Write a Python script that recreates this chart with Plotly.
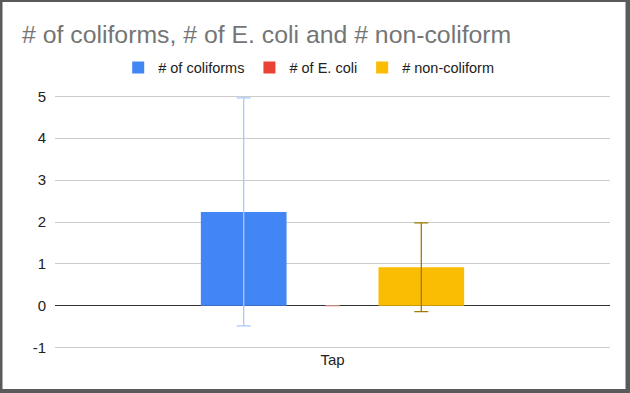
import plotly.graph_objects as go

categories = ["Tap"]
series_names = ["# of coliforms", "# of E. coli", "# non-coliform"]
values = [[2.24], [0.0], [0.92]]
errors = [[2.72], [0.0], [1.06]]
bar_colors = ["#4285f4", "#ea4335", "#fbbc04"]
err_colors = ["#a9c8fb", "#f4a6a0", "#a07c00"]
y_ticks = [-1, 0, 1, 2, 3, 4, 5]
y_tick_labels = ["-1", "0", "1", "2", "3", "4", "5"]

fig = go.Figure()
for name, v, e, c, ec in zip(series_names, values, errors, bar_colors, err_colors):
    fig.add_trace(go.Bar(
        x=categories, y=v, name=name,
        marker=dict(color=c, line=dict(width=0)),
        error_y=dict(type="data", array=e, visible=True, color=ec, thickness=1.3, width=7),
    ))

H = 254.0
fig.update_layout(
    width=630, height=393,
    margin=dict(l=55, r=20, t=95, b=44, autoexpand=False),
    paper_bgcolor="#5a5a5a",
    plot_bgcolor="rgba(0,0,0,0)",
    barmode="group", bargap=0.52, bargroupgap=0.035,
    font=dict(family="Liberation Sans, Arial, sans-serif", size=15, color="#222222"),
    title=dict(text="# of coliforms, # of E. coli and # non-coliform",
               x=22/630, xanchor="left", y=1-34/393, yanchor="middle",
               font=dict(size=24.8, color="#757575")),
    legend=dict(orientation="h", x=0.49, xanchor="center", y=1-67.5/393, yanchor="middle",
                yref="container", xref="container", bgcolor="white",
                font=dict(size=14.5, color="#222222"),
                itemwidth=30, traceorder="normal"),
    shapes=[dict(type="rect", xref="paper", yref="paper", layer="below",
                 x0=-52.5/555, x1=1 + 15.5/555, y0=-40/H, y1=1 + 93/H,
                 fillcolor="white", line=dict(width=0))],
    xaxis=dict(showgrid=False, showline=False, ticks="", tickfont=dict(size=15, color="#222222")),
    yaxis=dict(range=[-1.03, 5.03], tickvals=y_ticks, ticktext=y_tick_labels,
               showgrid=True, gridcolor="#cccccc", gridwidth=1,
               zeroline=True, zerolinecolor="#333333", zerolinewidth=1,
               ticks="", tickfont=dict(size=15, color="#222222"), ticklabelstandoff=8),
)

fig.write_html("out.html")
